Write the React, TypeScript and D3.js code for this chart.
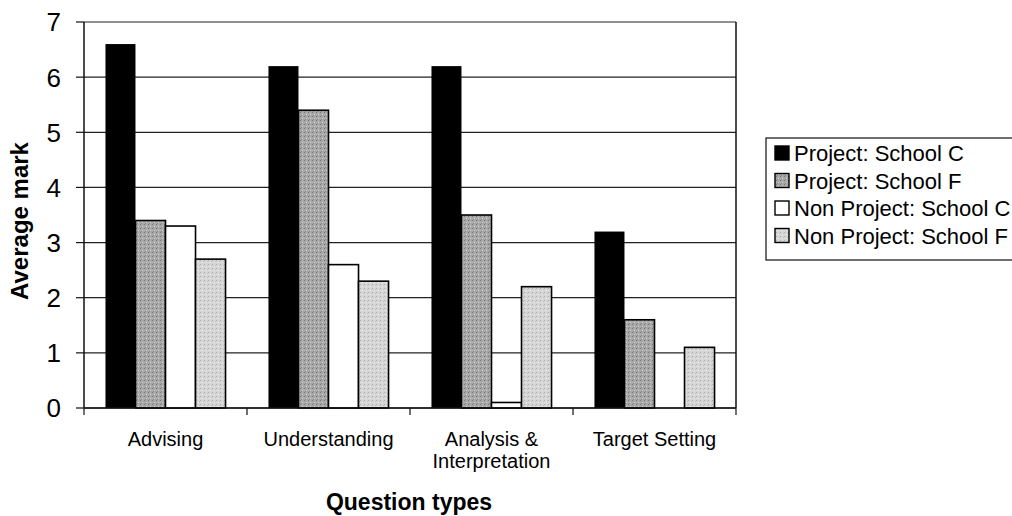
import React from "react";
import * as d3 from "d3";

const categories: string[][] = [
  ["Advising"],
  ["Understanding"],
  ["Analysis &", "Interpretation"],
  ["Target Setting"],
];
const seriesNames = [
  "Project: School C",
  "Project: School F",
  "Non Project: School C",
  "Non Project: School F",
];
const projectC = [6.6, 6.2, 6.2, 3.2];
const projectF = [3.4, 5.4, 3.5, 1.6];
const nonProjectC = [3.3, 2.6, 0.1, 0];
const nonProjectF = [2.7, 2.3, 2.2, 1.1];
const yTicks = [0, 1, 2, 3, 4, 5, 6, 7];

const seriesValues = [projectC, projectF, nonProjectC, nonProjectF];
const fills = ["#000000", "url(#patF)", "#ffffff", "url(#patL)"];

export default function App() {
  const W = 1012, H = 516;
  const left = 84, right = 736, top = 22, bottom = 408;
  const font = "'Liberation Sans', Arial, sans-serif";

  const x0 = d3.scaleBand<number>().domain(d3.range(categories.length)).range([left, right]).paddingInner(0).paddingOuter(0);
  const bw = x0.bandwidth();
  const barW = bw / 5.43;
  const groupOffset = (bw - 4 * barW) / 2;
  const y = d3.scaleLinear().domain([0, 7]).range([bottom, top]);

  return (
    <svg width={W} height={H} style={{ position: "absolute", left: 0, top: 0, background: "#fff" }}>
      <defs>
        <pattern id="patF" width="4" height="4" patternUnits="userSpaceOnUse">
          <rect width="4" height="4" fill="#a9a9a9" />
          <rect x="0" y="0" width="1" height="1" fill="#777" />
          <rect x="2" y="2" width="1" height="1" fill="#d0d0d0" />
          <rect x="1" y="3" width="1" height="1" fill="#888" />
        </pattern>
        <pattern id="patL" width="4" height="4" patternUnits="userSpaceOnUse">
          <rect width="4" height="4" fill="#d6d6d6" />
          <rect x="0" y="0" width="1" height="1" fill="#b0b0b0" />
          <rect x="2" y="2" width="1" height="1" fill="#f2f2f2" />
          <rect x="3" y="1" width="1" height="1" fill="#bcbcbc" />
        </pattern>
      </defs>
      {yTicks.map((t) => (
        <line key={"g" + t} x1={left} x2={right} y1={y(t)} y2={y(t)} stroke="#222" strokeWidth={1.2} />
      ))}
      <line x1={right} x2={right} y1={top} y2={bottom} stroke="#111" strokeWidth={1.5} />
      {seriesValues.map((vals, s) =>
        vals.map((v, i) =>
          v > 0 ? (
            <rect
              key={`b${s}-${i}`}
              x={(x0(i) as number) + groupOffset + s * barW}
              y={y(v)}
              width={barW}
              height={y(0) - y(v)}
              fill={fills[s]}
              stroke="#000"
              strokeWidth={s === 0 ? 0 : 1.6}
            />
          ) : null
        )
      )}
      <line x1={left} x2={left} y1={top} y2={bottom} stroke="#111" strokeWidth={1.5} />
      {yTicks.map((t) => (
        <g key={"yt" + t}>
          <line x1={left - 8} x2={left} y1={y(t)} y2={y(t)} stroke="#111" strokeWidth={1.2} />
          <text x={61} y={y(t)} dy="0.36em" textAnchor="end" fontFamily={font} fontSize={26} fill="#000">
            {t}
          </text>
        </g>
      ))}
      <line x1={left} x2={right} y1={bottom} y2={bottom} stroke="#111" strokeWidth={1.5} />
      {d3.range(categories.length + 1).map((i) => {
        const xx = i < categories.length ? (x0(i) as number) : right;
        return <line key={"xt" + i} x1={xx} x2={xx} y1={bottom} y2={bottom + 7} stroke="#111" strokeWidth={1.2} />;
      })}
      {categories.map((lines, i) => (
        <text key={"c" + i} x={(x0(i) as number) + bw / 2} y={446} textAnchor="middle" fontFamily={font} fontSize={20} fill="#000">
          {lines.map((l, k) => (
            <tspan key={k} x={(x0(i) as number) + bw / 2} dy={k === 0 ? 0 : 22}>
              {l}
            </tspan>
          ))}
        </text>
      ))}
      <text x={409} y={510} textAnchor="middle" fontFamily={font} fontSize={23} fontWeight="bold" fill="#000">
        Question types
      </text>
      <text transform={`translate(28,221) rotate(-90)`} textAnchor="middle" fontFamily={font} fontSize={24} fontWeight="bold" fill="#000">
        Average mark
      </text>
      <rect x={766} y={138} width={290} height={122} fill="#fff" stroke="#111" strokeWidth={1.2} />
      {seriesNames.map((n, s) => (
        <g key={"l" + s}>
          <rect x={775} y={146 + s * 27.5} width={14} height={14} fill={fills[s]} stroke="#000" strokeWidth={1.4} />
          <text x={794} y={161 + s * 27.5} fontFamily={font} fontSize={22} fill="#000">
            {n}
          </text>
        </g>
      ))}
    </svg>
  );
}
